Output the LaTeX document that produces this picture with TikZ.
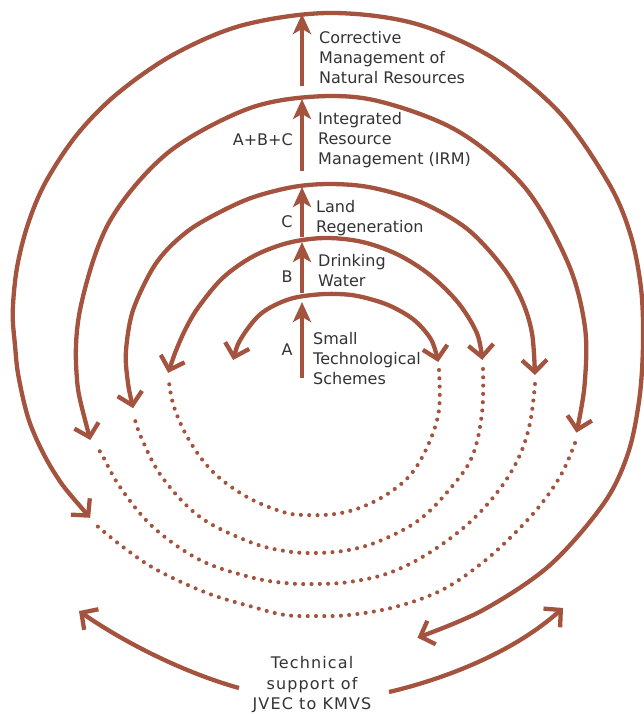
\documentclass[tikz,border=0pt]{standalone}
\usepackage{fontspec}
\setmainfont{DejaVu Sans}
\usetikzlibrary{arrows.meta}
\definecolor{rust}{RGB}{163,83,62}
\definecolor{ink}{RGB}{51,51,51}
\begin{document}
\begin{tikzpicture}[x=1pt,y=-1pt,
  vbarb/.tip={Straight Barb[length=12pt,width=25pt]},
  ring/.style={draw=rust,line width=4.3pt,vbarb-vbarb},
  oneway/.style={draw=rust,line width=4.3pt,-vbarb},
  link/.style={draw=rust,line width=4.1pt,line cap=round,dash pattern=on 0pt off 8.3pt},
  rise/.style={draw=rust,line width=4.4pt,-{Stealth[length=20pt,width=18pt,inset=5pt]}},
  lbl/.style={anchor=west,align=left,inner sep=0pt,text=ink,font=\fontsize{16}{20}\selectfont},
  key/.style={anchor=center,inner sep=0pt,text=ink,font=\fontsize{16}{20}\selectfont},
  foot/.style={anchor=center,align=center,inner sep=0pt,text=ink,font=\fontsize{16}{20.5}\selectfont\addfontfeature{LetterSpace=7}}]
\useasboundingbox (0,0) rectangle (644,714);

% solid rings, innermost first (polar points about each ring's own centre)
\draw[ring,shift={(335,375)}] plot[smooth,tension=0.55] coordinates {(171.6:103pt) (158:100.5pt) (140:96pt) (121:88.5pt) (100:82pt) (80:81.5pt) (64:84pt) (50:89pt) (34.5:96.5pt) (20:102.5pt) (7.2:104pt)};
\draw[ring,shift={(325,380)}] plot[smooth,tension=0.55] coordinates {(177.4:157pt) (170:152.5pt) (160:148.5pt) (150:146pt) (135:144.5pt) (120:143pt) (105:142pt) (90:142pt) (75:143pt) (60:145pt) (45:148.5pt) (30:154pt) (17:159pt) (7.3:158.5pt)};
\draw[ring,shift={(331,365)}] plot[smooth,tension=0.55] coordinates {(192.3:202.6pt) (184:204pt) (176:205.5pt) (165:205.5pt) (153:203pt) (145:200.5pt) (136:195.5pt) (126:189pt) (115:185pt) (102:182pt) (90:181pt) (77:182pt) (61:186pt) (45:192.5pt) (30:197.5pt) (19:201.5pt) (9:203.5pt) (-2.8:204.2pt)};
\draw[ring,shift={(331,350)}] plot[smooth,tension=0.55] coordinates {(200.5:257pt) (185:255.5pt) (170:254pt) (150:256pt) (130:256pt) (110:255pt) (95:254pt) (80:253.5pt) (60:253pt) (40:253pt) (20:252.5pt) (5:255pt) (-8:256pt) (-18.6:259pt)};
\draw[ring,shift={(328,345)}] plot[smooth,tension=0.55] coordinates {(216:294pt) (205:302pt) (195:308pt) (186:311pt) (180:313pt) (174:317pt) (166:320.5pt) (158:323.5pt) (150:326pt) (140:327.5pt) (130:328pt) (118:329pt) (105:331pt) (90:332pt) (75:333pt) (60:331pt) (45:328pt) (30:324pt) (20:322pt) (10:318pt) (0:315pt) (-10:316pt) (-20:319pt) (-30:318pt) (-45:312.5pt) (-60:307pt) (-73:306pt)};

% dotted links joining one ring to the next
\draw[link] plot[smooth,tension=0.6] coordinates {(439,370) (439,410) (429,443) (412,473) (389,493) (362,507) (335,514) (305,515) (283,512) (247,497) (213,472) (189,440) (174,407) (169,382)};
\draw[link] plot[smooth,tension=0.6] coordinates {(483,369) (482,413) (472,457) (449,490) (419,520) (382,540) (349,550) (315,553) (285,551) (250,542) (200,517) (162,477) (141,437) (134,416)};
\draw[link] plot[smooth,tension=0.6] coordinates {(535,384) (530,423) (519,457) (499,490) (469,523) (429,553) (389,573) (349,582) (315,584) (285,583) (250,577) (200,560) (153,527) (120,487) (101,453) (95,447)};
\draw[link] plot[smooth,tension=0.6] coordinates {(575,443) (562,473) (542,503) (515,533) (482,563) (442,590) (395,607) (349,615) (315,616) (285,615) (253,607) (207,593) (157,570) (123,547) (96,525)};

% labels
\node[lbl] (tE) at (319,58) {Corrective\\Management of\\Natural Resources};
\node[lbl] (tD) at (318,140) {Integrated\\Resource\\Management (IRM)};
\node[key,anchor=east] (kD) at (293,140) {A+B+C};
\node[lbl] (tC) at (316,218) {Land\\Regeneration};
\node[key] (kC) at (287,222) {C};
\node[lbl] (tB) at (318,271) {Drinking\\Water};
\node[key] (kB) at (287,277) {B};
\node[lbl] (tA) at (313,359) {Small\\Technological\\Schemes};
\node[key] (kA) at (287,350) {A};
\node[foot] (tS) at (312,685) {Technical\\support of\\JVEC to KMVS};

% rising arrows between the rings
\coordinate (a0) at (302,378); \coordinate (a1) at (302,302);
\coordinate (b0) at (302,293); \coordinate (b1) at (302,242);
\coordinate (c0) at (302,237); \coordinate (c1) at (302,187);
\coordinate (d0) at (302,171); \coordinate (d1) at (302,99);
\coordinate (e0) at (302,86);  \coordinate (e1) at (302,14);
\draw[rise] (a0) -- (a1);
\draw[rise] (b0) -- (b1);
\draw[rise] (c0) -- (c1);
\draw[rise] (d0) -- (d1);
\draw[rise] (e0) -- (e1);

% support arrows from the bottom label
\coordinate (sL0) at (239,688); \coordinate (sL1) at (79,611);
\coordinate (sR0) at (389,692); \coordinate (sR1) at (563,608);
\draw[oneway] (sL0) .. controls (185,673) and (125,643) .. (sL1);
\draw[oneway] (sR0) .. controls (440,680) and (510,655) .. (sR1);
\end{tikzpicture}
\end{document}
